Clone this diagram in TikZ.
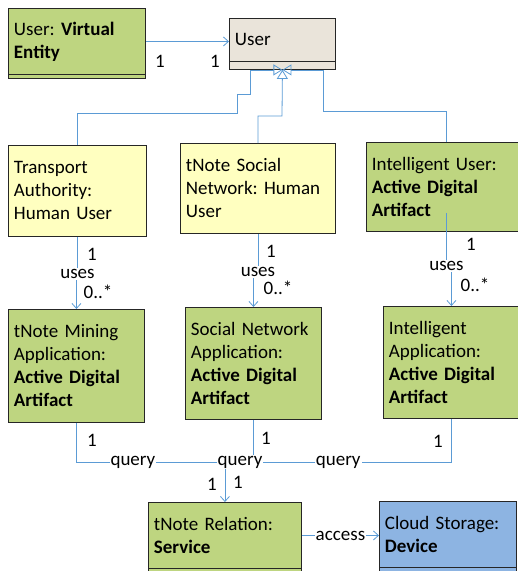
\documentclass[tikz,border=0pt]{standalone}
\usepackage{fontspec}
\setmainfont{Carlito}
\frenchspacing
\usetikzlibrary{arrows.meta}

\definecolor{linkblue}{HTML}{5B9BD5}
\definecolor{greenfill}{HTML}{BED580}
\definecolor{yellowfill}{HTML}{FFFFC0}
\definecolor{beigefill}{HTML}{EAE4DA}
\definecolor{bluefill}{HTML}{8DB4E2}

\begin{document}
\begin{tikzpicture}[x=1pt, y=-1pt,
  umlbox/.style={draw=black!85, line width=0.9pt, anchor=north west, inner xsep=5pt, inner ysep=0pt,
    align=left, font=\fontsize{19}{23}\selectfont},
  lbl/.style={font=\fontsize{19}{23}\selectfont, inner sep=1pt},
  link/.style={draw=linkblue, line width=0.8pt},
  assoc/.style={link, -{Straight Barb[length=5pt, width=9pt]}},
  gen/.style={link, -{Triangle[open, length=9pt, width=11pt]}}]

  %% canvas
  \clip (0,0) rectangle (518,571);

  %% ==== boxes ====
  \node[umlbox, fill=greenfill, minimum width=137, minimum height=66, text width=126] (ve) at (8,8)
    {User: \textbf{Virtual}\\\textbf{Entity}};
  \draw[line width=0.9pt, draw=black!85, fill=greenfill] (ve.south west) rectangle ++(137,4);

  \node[umlbox, fill=beigefill, minimum width=106, minimum height=43, text width=95] (user) at (229,18) {User};
  \draw[line width=0.9pt, draw=black!85, fill=beigefill] (user.south west) rectangle ++(106,8);
  \coordinate (ugen) at ([yshift=-8pt]user.south);

  \node[umlbox, fill=yellowfill, minimum width=138, minimum height=91, text width=127] (ta) at (8,145)
    {Transport\\Authority:\\Human User};
  \node[umlbox, fill=yellowfill, minimum width=155, minimum height=90, text width=144] (tsn) at (180,143)
    {tNote Social\\Network: Human\\User};
  \node[umlbox, fill=greenfill, minimum width=160, minimum height=89, text width=149] (iu) at (366,142)
    {Intelligent User:\\\textbf{Active Digital}\\\textbf{Artifact}};

  \node[umlbox, fill=greenfill, minimum width=136, minimum height=113, text width=125] (tma) at (8,309)
    {tNote Mining\\Application:\\\textbf{Active Digital}\\\textbf{Artifact}};
  \node[umlbox, fill=greenfill, minimum width=136, minimum height=112, text width=125] (sna) at (185,307)
    {Social Network\\Application:\\\textbf{Active Digital}\\\textbf{Artifact}};
  \node[umlbox, fill=greenfill, minimum width=136, minimum height=112, text width=125] (ia) at (383,306)
    {Intelligent\\Application:\\\textbf{Active Digital}\\\textbf{Artifact}};

  \node[umlbox, fill=greenfill, minimum width=153, minimum height=66, text width=142] (rel) at (148,502)
    {tNote Relation:\\\textbf{Service}};
  \draw[line width=0.9pt, draw=black!85, fill=greenfill] (rel.south west) rectangle ++(153,12);
  \node[umlbox, fill=bluefill, minimum width=137, minimum height=66, text width=126] (cs) at (379,501)
    {Cloud Storage:\\\textbf{Device}};
  \draw[line width=0.9pt, draw=black!85, fill=bluefill] (cs.south west) rectangle ++(137,12);

  %% ==== generalisation ====
  \draw[gen] (ta.north) |- (237,113) |- (250,94) |- (ugen);
  \draw[gen] (tsn.north) |- (282,116) -- (ugen);
  \draw[gen] (iu.north) |- (323,111) |- (ugen);

  %% ==== associations ====
  \draw[assoc] (ve.east) -- (ve.east -| user.west);
  \node[lbl] (m0a) at (160,61) {1};
  \node[lbl] (m0b) at (215,61) {1};

  \draw[assoc] (ta.south) -- (ta.south |- 0,274) node[lbl, fill=white] {uses} -| (tma.north);
  \draw[assoc] (tsn.south) -- (tsn.south |- 0,272) node[lbl, fill=white] {uses} -| (sna.north);
  \draw[assoc] ([yshift=19pt]iu.south) -- (iu.south |- 0,266) node[lbl, fill=white] {uses} -| (ia.north);
  \node[lbl] (m1a) at (92,254) {1};
  \node[lbl] (m1b) at (98,292) {0..*};
  \node[lbl] (m2a) at (271,251) {1};
  \node[lbl] (m2b) at (278,288) {0..*};
  \node[lbl] (m3a) at (471,244) {1};
  \node[lbl] (m3b) at (475,285) {0..*};

  % query: three links meet under the middle label
  \coordinate (qj) at (225,462);
  \draw[link] (tma.south) |- node[lbl, fill=white, pos=0.69] {query} (qj);
  \draw[link] (ia.south) |- node[lbl, fill=white, pos=0.75] {query} (qj);
  \draw[link] (sna.south) |- (qj);
  \node[lbl, fill=white] (qmid) at (240,462) {query};
  \draw[assoc] (qmid.south -| rel.north) -- (rel.north);
  \node[lbl] (q1) at (92,440) {1};
  \node[lbl] (q2) at (266,438) {1};
  \node[lbl] (q3) at (438,441) {1};
  \node[lbl] (q4) at (212,484) {1};
  \node[lbl] (q5) at (238,482) {1};

  \draw[assoc] (rel.east) -- (rel.east -| cs.west) node[midway, lbl, fill=white] {access};
\end{tikzpicture}
\end{document}
